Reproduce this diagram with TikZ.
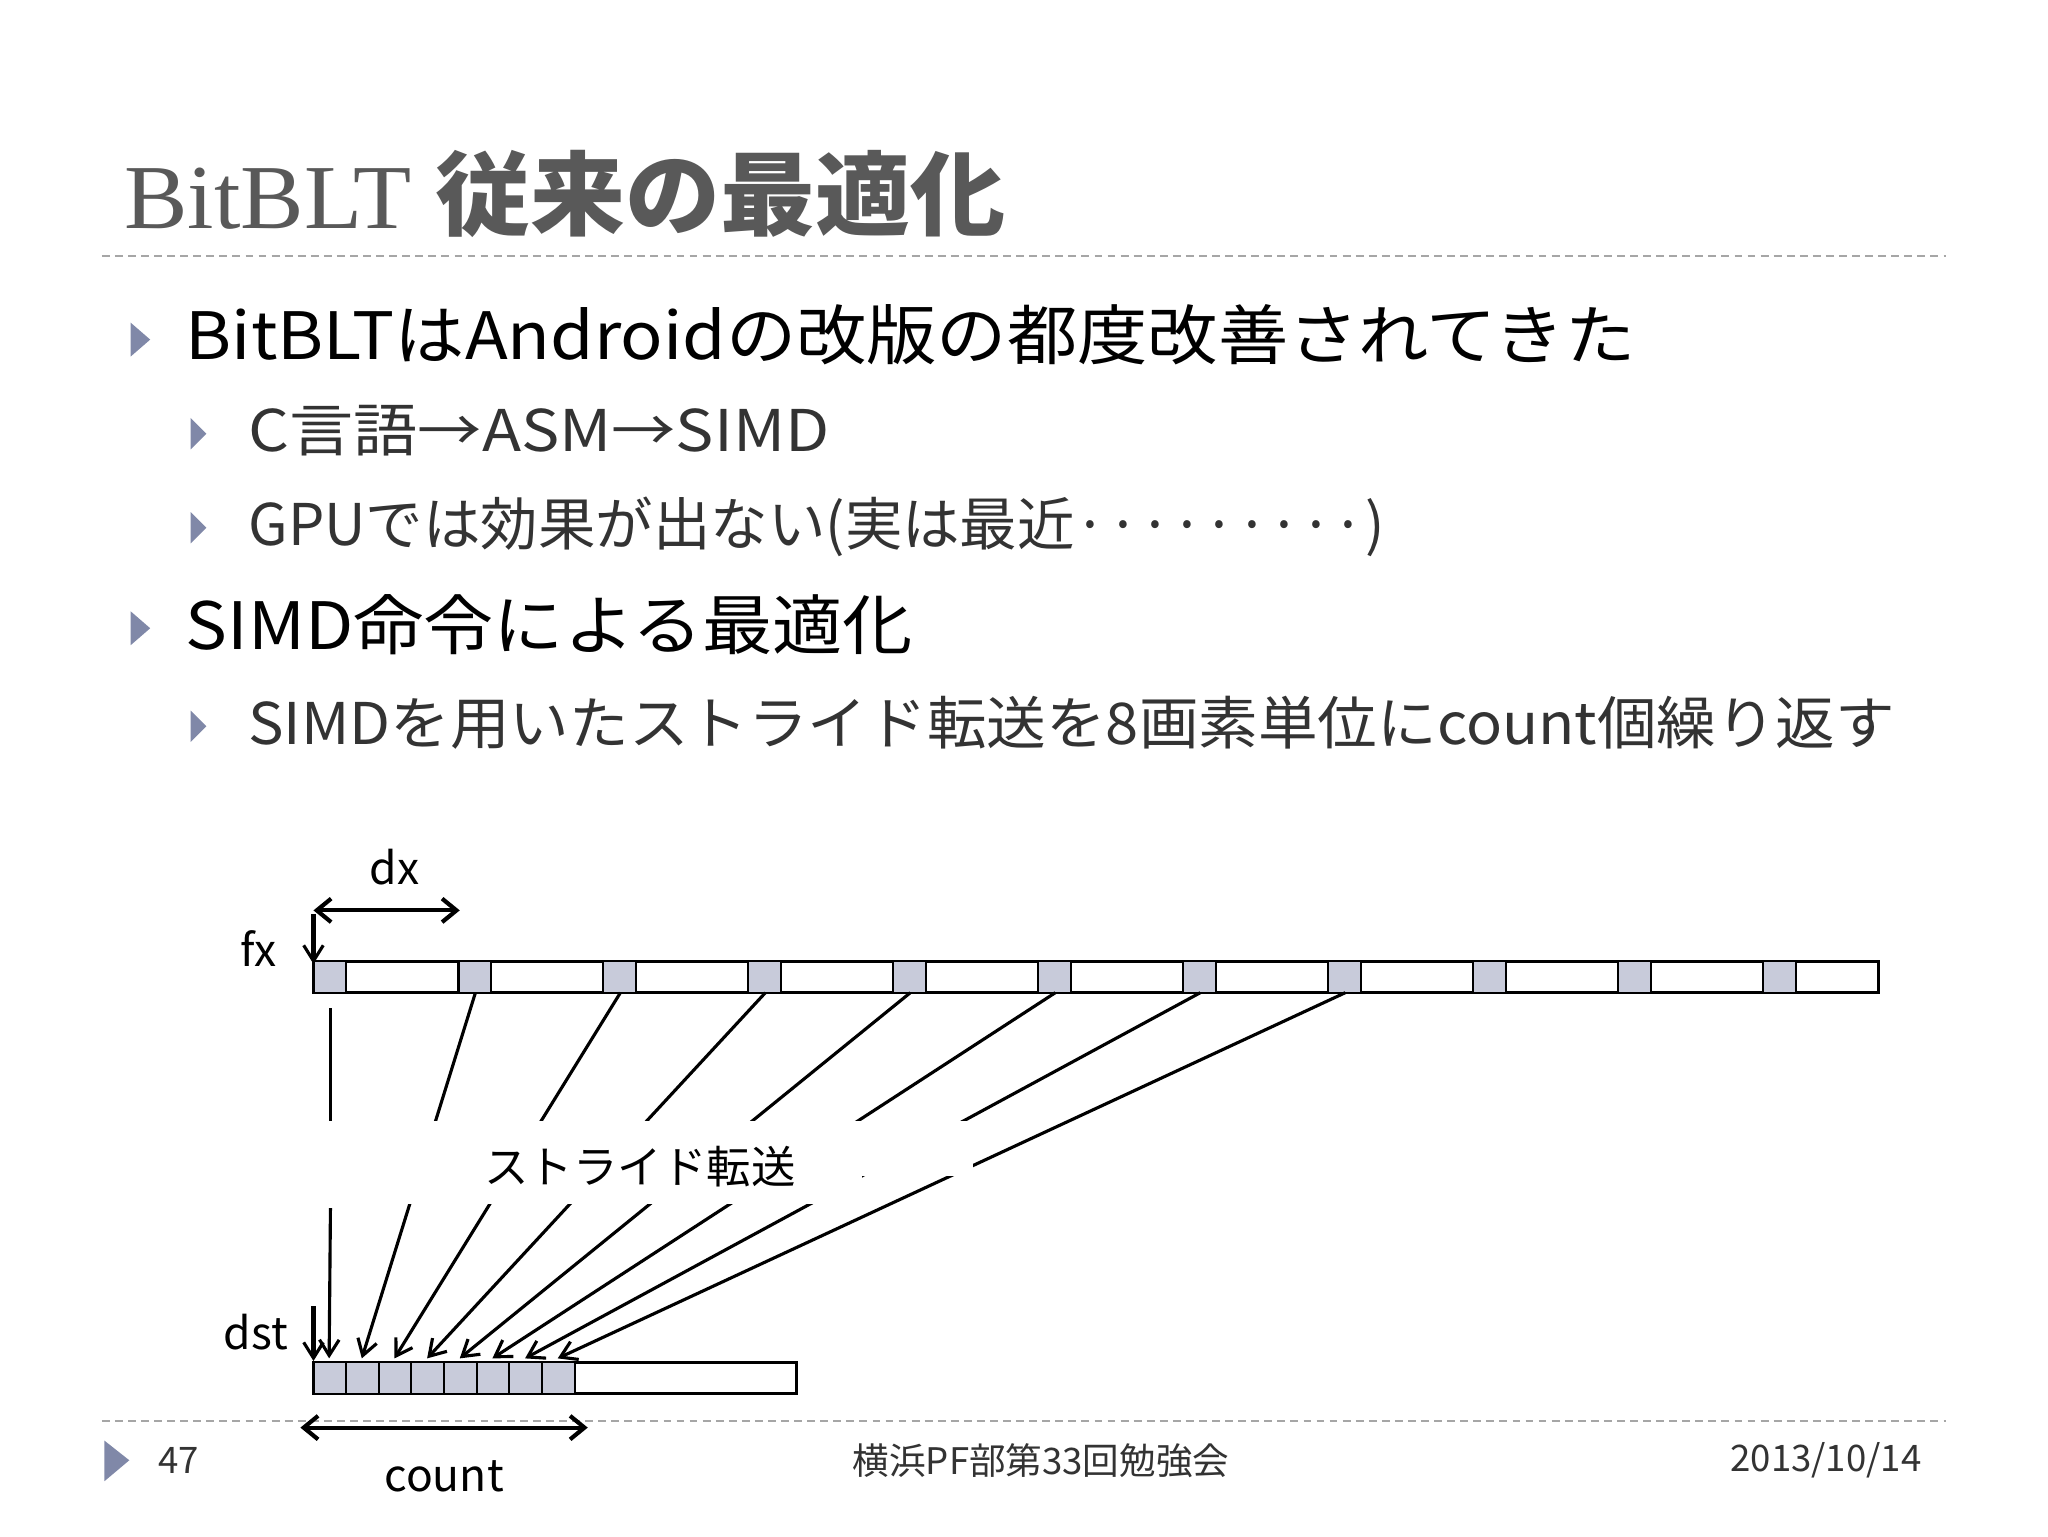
\documentclass[tikz,border=0pt]{standalone}
\usepackage{fontspec}
\setmainfont{Noto Sans CJK JP}
\newfontfamily\titlelat{Liberation Serif}
\usetikzlibrary{arrows.meta}
\definecolor{bul}{HTML}{8088A8}
\definecolor{cellc}{HTML}{C8CBDA}
\definecolor{titc}{HTML}{595959}
\definecolor{subc}{HTML}{333333}
\tikzset{x=1pt,y=-1pt,
 bl/.style={fill=bul,draw=none},
 cell/.style={fill=cellc,draw=black,line width=1.6pt},
 bar/.style={draw=black,line width=2.4pt},
 conn/.style={line width=2.4pt,-{Straight Barb[length=12pt,width=15pt,line width=2.4pt]}},
 dim/.style={line width=3.2pt,{Straight Barb[length=11pt,width=18pt]}-{Straight Barb[length=11pt,width=18pt]}},
 lab/.style={anchor=base west,inner sep=0pt},
 sep/.style={draw=gray!70,dash pattern=on 6pt off 4pt,line width=1.2pt}}
\begin{document}
\begin{tikzpicture}
\useasboundingbox[fill=white] (0,0) rectangle (1568,1176);
\node[lab,text=titc,font=\fontsize{70}{76}\selectfont] (t) at (95,175) {\scalebox{1.04}[1]{\titlelat BitBLT \normalfont\bfseries 従来の最適化}};
\draw[sep] (78,196) -- (1490,196);
% bullets
\fill[bl] (100,247)--(115,260)--(100,273)--cycle;
\node[lab,font=\fontsize{50}{54}\selectfont] (b1) at (142,275) {\scalebox{1.076}[1]{BitBLTはAndroidの改版の都度改善されてきた}};
\fill[bl] (146,320)--(158,332)--(146,344)--cycle;
\node[lab,text=subc,font=\fontsize{44}{48}\selectfont] (s1) at (190,346) {\scalebox{1.118}[1]{C言語→ASM→SIMD}};
\fill[bl] (146,392)--(158,404)--(146,416)--cycle;
\node[lab,text=subc,font=\fontsize{44}{48}\selectfont] (s2) at (190,418) {\scalebox{1.0}[1]{GPUでは効果が出ない(実は最近·········)}};
\fill[bl] (100,468)--(115,481)--(100,494)--cycle;
\node[lab,font=\fontsize{50}{54}\selectfont] (b2) at (142,497) {\scalebox{1.075}[1]{SIMD命令による最適化}};
\fill[bl] (146,544)--(158,556)--(146,568)--cycle;
\node[lab,text=subc,font=\fontsize{44}{48}\selectfont] (s3) at (190,570) {\scalebox{1.037}[1]{SIMDを用いたストライド転送を8画素単位にcount個繰り返す}};
% source bar
\draw[bar] (240,736) rectangle (1438,760);
\foreach \k in {0,...,10}{
  \draw[cell] ({240+111*\k},736) rectangle ({265+111*\k},760);
  \coordinate (s\k) at ({253+111*\k},760);
}
% dest bar
\draw[bar] (240,1043) rectangle (610,1067);
\foreach \k in {0,...,7}{
  \draw[cell] ({240+25*\k},1043) rectangle ({265+25*\k},1067);
  \coordinate (d\k) at ({252+25*\k},1040);
}
% connectors
\draw[line width=2.4pt] (253,772) -- (253,858);
\draw[conn] (253,925) -- (d0);
\foreach \k in {1,...,7}{ \draw[conn] (s\k) -- (d\k); }
\fill[white] (245,858) rectangle (660,922);
\fill[white] (660,858) rectangle (745,900);
\node[font=\fontsize{34}{36}\selectfont,inner sep=0pt] (st) at (490,893) {ストライド転送};
% fx, dx
\node[font=\fontsize{34}{36}\selectfont,inner sep=0pt] (fx) at (198,726) {fx};
\coordinate (fxa) at (240,700); \coordinate (fxb) at (240,738);
\draw[conn,line width=3.2pt] (fxa) -- (fxb);
\coordinate (dxa) at (240,697); \coordinate (dxb) at (352,697);
\draw[dim] (dxa) -- (dxb);
\node[font=\fontsize{34}{36}\selectfont,inner sep=0pt] (dx) at (302,664) {dx};
% dst
\node[font=\fontsize{34}{36}\selectfont,inner sep=0pt] (dst) at (196,1020) {dst};
\coordinate (dsa) at (240,1000); \coordinate (dsb) at (240,1042);
\draw[conn,line width=3.2pt] (dsa) -- (dsb);
% count
\draw[sep] (78,1088) -- (1490,1088);
\coordinate (ca) at (230,1093); \coordinate (cb) at (450,1093);
\draw[dim] (ca) -- (cb);
\node[font=\fontsize{34}{36}\selectfont,inner sep=0pt] (cnt) at (340,1130) {count};
% footer
\fill[bl] (80,1103)--(99,1118)--(80,1134)--cycle;
\node[text=subc,font=\fontsize{28}{30}\selectfont,inner sep=0pt] (pg) at (137,1118) {47};
\node[text=subc,font=\fontsize{28}{30}\selectfont,inner sep=0pt] (ev) at (797,1118) {横浜PF部第33回勉強会};
\node[text=subc,font=\fontsize{28}{30}\selectfont,inner sep=0pt] (dt) at (1398,1118) {2013/10/14};
\end{tikzpicture}
\end{document}
